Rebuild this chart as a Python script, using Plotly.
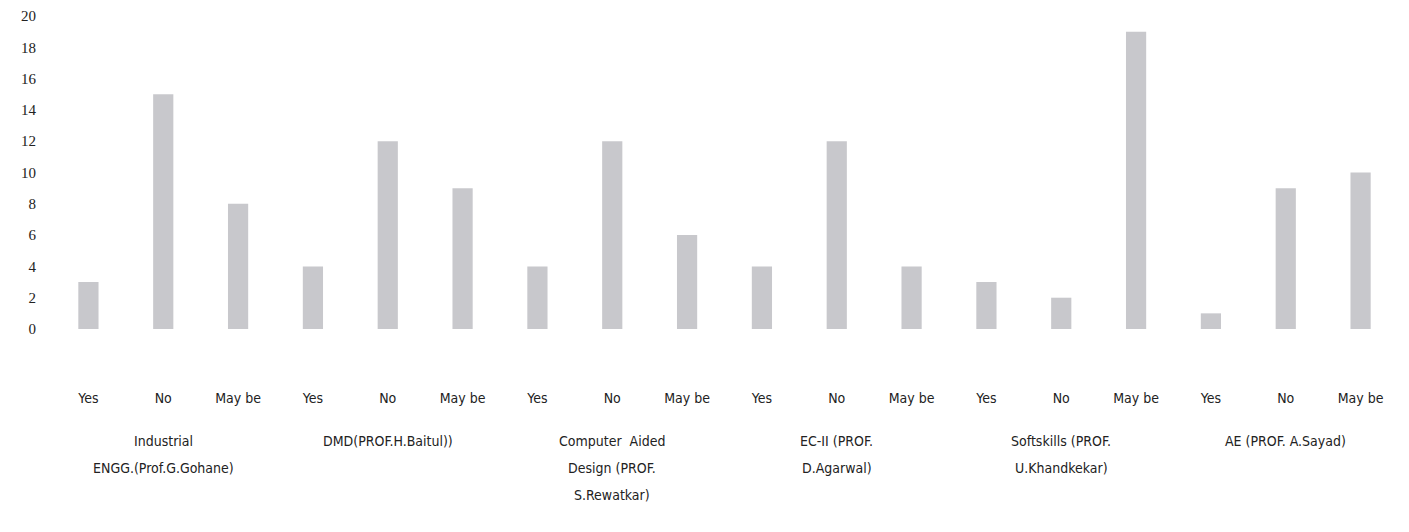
import plotly.graph_objects as go

groups = [
    ["Industrial", "ENGG.(Prof.G.Gohane)"],
    ["DMD(PROF.H.Baitul))"],
    ["Computer  Aided", "Design (PROF.", "S.Rewatkar)"],
    ["EC-II (PROF.", "D.Agarwal)"],
    ["Softskills (PROF.", "U.Khandkekar)"],
    ["AE (PROF. A.Sayad)"],
]
answers = ["Yes", "No", "May be"]
values = [
    [3, 15, 8],
    [4, 12, 9],
    [4, 12, 6],
    [4, 12, 4],
    [3, 2, 19],
    [1, 9, 10],
]
y_ticks = list(range(0, 21, 2))

xs, labels, yv = [], [], []
i = 0
for vals in values:
    for a, v in zip(answers, vals):
        xs.append(i)
        labels.append(a)
        yv.append(v)
        i += 1

FONT = "Liberation Sans Narrow, DejaVu Sans Condensed, Arial"

fig = go.Figure(go.Bar(x=xs, y=yv, marker=dict(color="#c8c8cc", line=dict(width=0))))

H = 532
top, bottom = 8, 211
plot_h = H - top - bottom
line_px = [112, 139, 166]  # pixel offsets of group label lines below axis
for gi, lines in enumerate(groups):
    cx = sum(xs[gi * 3:(gi + 1) * 3]) / 3
    for li, txt in enumerate(lines):
        fig.add_annotation(
            x=cx, xref="x", y=-line_px[li] / plot_h, yref="paper",
            text=txt, showarrow=False, yanchor="middle", xanchor="center",
            font=dict(family=FONT, size=14, color="#222"),
        )

fig.update_layout(
    width=1409, height=H,
    margin=dict(l=43, r=19, t=top, b=bottom, autoexpand=False),
    paper_bgcolor="white", plot_bgcolor="white",
    bargap=0.73, showlegend=False,
    font=dict(family=FONT, size=14, color="#222"),
)
fig.update_xaxes(
    range=[-0.5, len(xs) - 0.5], tickvals=xs, ticktext=labels,
    showline=False, showgrid=False, zeroline=False,
    ticks="", ticklabelstandoff=59,
    tickfont=dict(family=FONT, size=14, color="#222"),
)
fig.update_yaxes(
    range=[0, 20], tickvals=y_ticks, showgrid=False, showline=False, zeroline=False,
    ticks="", ticklabelstandoff=14,
    tickfont=dict(family="Liberation Serif, serif", size=15, color="#222"),
)
fig.write_html("out.html")
